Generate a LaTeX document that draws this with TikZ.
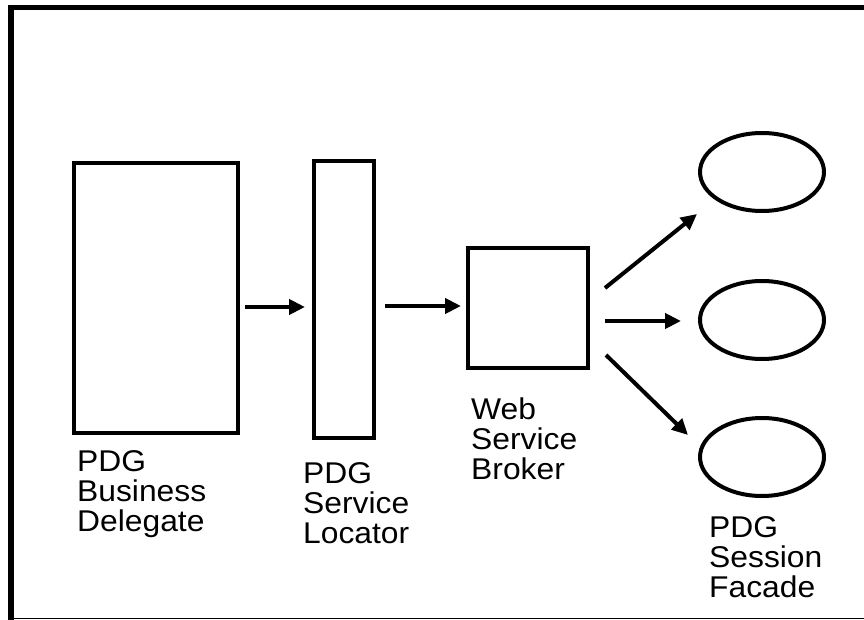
\documentclass[tikz,border=0pt]{standalone}
\usepackage{fontspec}
\setmainfont[FakeStretch=1.06]{Liberation Sans}
\usetikzlibrary{arrows.meta,shapes.geometric}

\begin{document}
\begin{tikzpicture}[x=1pt,y=-1pt,
		part/.style={draw, line width=4pt, inner sep=0pt},
		bean/.style={draw, ellipse, line width=4pt, inner sep=0pt, minimum width=124pt, minimum height=78pt},
		call/.style={line width=4pt, -{Triangle[length=16pt,width=15pt]}},
		caption/.style={anchor=north west, align=left, inner sep=0pt, font=\fontsize{30}{30}\selectfont}]
				\useasboundingbox (0,0) rectangle (864,620);
				\draw [line width=5.5pt] (8,7.5) -- (870,7.5);
				\draw [line width=6pt] (11,5) -- (11,625);
				\draw [line width=1.5pt] (8,618.5) -- (870,618.5);
				\node [part, minimum width=164pt, minimum height=270pt] (delegate) at (156,298) {};
				\node [part, minimum width=60pt, minimum height=277pt] (locator) at (344,299.5) {};
				\node [part, minimum width=120pt, minimum height=120pt] (broker) at (528,308) {};
				\node [bean] (facadeA) at (762,172) {};
				\node [bean] (facadeB) at (762,320) {};
				\node [bean] (facadeC) at (762,457) {};
				\draw [call] ([shift={(5pt,-9pt)}]delegate.east) -- ([shift={(-7pt,-7.5pt)}]locator.west);
				\draw [call] ([shift={(9pt,-6.5pt)}]locator.east) -- ([shift={(-5pt,2pt)}]broker.west);
				\draw [call] ([shift={(15pt,20pt)}]broker.east) -- ([shift={(-65pt,-42pt)}]facadeA.center);
				\draw [call] ([shift={(15pt,-13pt)}]broker.east) -- ([shift={(-81pt,-1pt)}]facadeB.center);
				\draw [call] ([shift={(16pt,-47pt)}]broker.east) -- ([shift={(-74pt,22pt)}]facadeC.center);
				\node [caption] (delegatetext) at (77,450) {PDG\\Business\\Delegate};
				\node [caption] (locatortext) at (303,462) {PDG\\Service\\Locator};
				\node [caption] (brokertext) at (471,398) {Web\\Service\\Broker};
				\node [caption] (facadetext) at (709,516) {PDG\\Session\\Facade};
			\end{tikzpicture}
\end{document}
